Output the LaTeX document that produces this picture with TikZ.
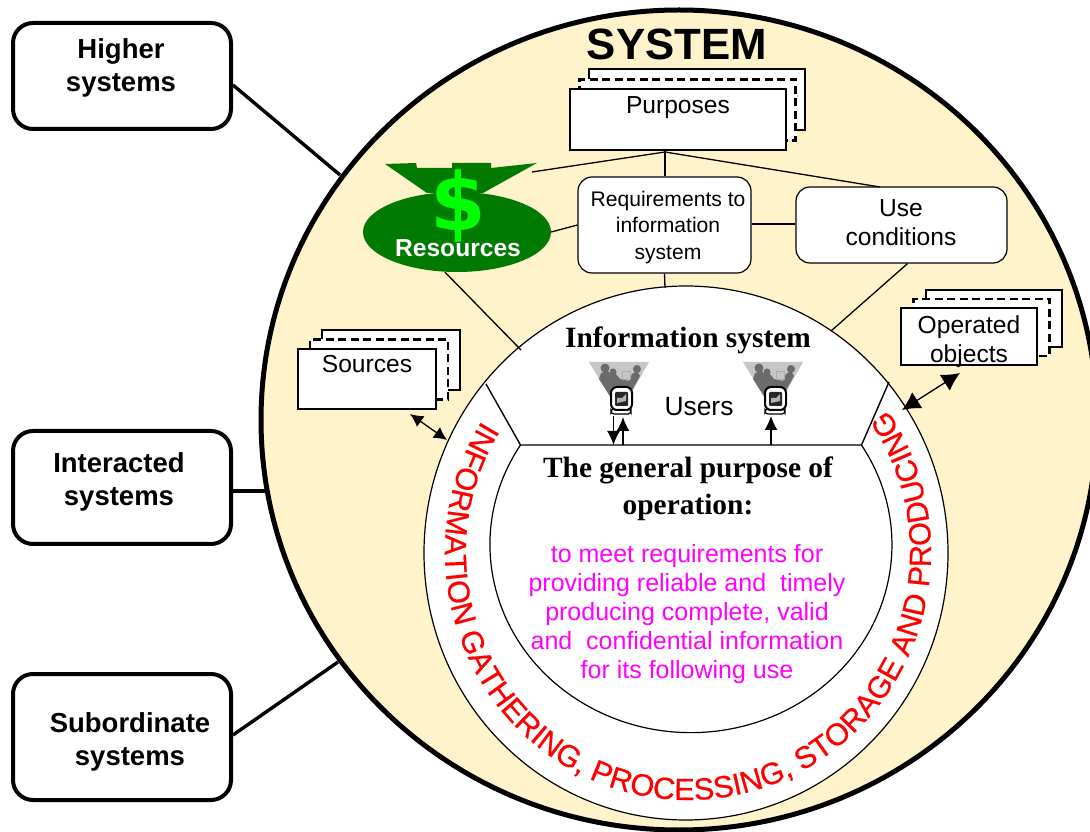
\documentclass[tikz,border=0pt]{standalone}
\usepackage{fontspec}
\setmainfont{Liberation Sans}
\newfontfamily\headfont{Liberation Serif}
\newfontfamily\arcfont[FakeBold=0.5]{Liberation Sans}
\newfontfamily\dollarfont{DejaVu Sans}
\usetikzlibrary{arrows.meta,decorations.text,shapes.geometric}
\definecolor{sysbg}{HTML}{FFF3CC}
\definecolor{bagdark}{HTML}{007A00}
\definecolor{baglight}{HTML}{00FF00}
\definecolor{goaltext}{HTML}{FF00FF}
\tikzset{
	sysbox/.style={draw,line width=4pt,rounded corners=20pt,fill=white,minimum width=218pt},
	systxt/.style={align=center,font=\fontsize{27.5}{33}\selectfont\bfseries},
	sheet/.style={draw,line width=2pt,fill=white,inner sep=0pt},
	sheetdash/.style={sheet,line width=2.4pt,dash pattern=on 8pt off 4.5pt},
	softbox/.style={draw,line width=1.2pt,rounded corners=14pt,fill=white,inner sep=0pt},
	plain/.style={align=center,font=\fontsize{24.6}{29}\selectfont},
	goalfont/.style={align=center,font=\fontsize{25}{29.2}\selectfont},
	headtxt/.style={align=center,font=\fontsize{29.4}{37}\selectfont\headfont\bfseries},
	thin line/.style={line width=1.3pt},
	both tips/.style={line width=1.3pt,{Latex[length=13pt,width=13pt]}-{Latex[length=13pt,width=13pt]}},
	usericon/.pic={
		\fill[gray!45](-30,0)--(30,0)--(1,-51)--cycle;
		\fill[black!58](-20,-17)--(-18,-11)--(-11,-9)--(-8,-13)--(-3,-12)--(1,-17)--(10,-19)--(13,-12)--(18,-9)--(21,-14)--(1,-50)--cycle;
		\fill[black!58](-14,-6)circle(4.5pt)(-6,-10)circle(3.5pt)(18,-7)circle(4pt);
		\draw[gray!65,line width=1pt](3,-10)rectangle(11,-18);
		\draw[line width=1.3pt,fill=white,rounded corners=3pt](-8,-47)rectangle(12,-52);
		\draw[line width=2pt,fill=white,rounded corners=6pt](-8,-25)rectangle(13,-48);
		\fill[black!85,rounded corners=1pt](-4,-30)rectangle(9,-44);
		\fill[gray!60](-2,-41)--(-2,-36)--(3,-36)--(7,-32)--(7,-39)--cycle;
		\coordinate(-foot)at(0,-54);
	}
}
\begin{document}
\begin{tikzpicture}[x=1pt,y=1pt]
	\useasboundingbox(0,0)rectangle(1090,831);
	\clip(0,0)rectangle(1090,831);
	\fill[sysbg](679,411)ellipse[x radius=418,y radius=410];
	\draw[line width=5pt](679,411)ellipse[x radius=418,y radius=410];
	\draw[line width=1.2pt,fill=white](686,278)ellipse[x radius=262,y radius=267];
	\draw[line width=1.2pt](520.5,386)arc[start angle=148,end angle=392,x radius=201,y radius=188];
	\draw[line width=1.4pt](486,447)--(520.5,386)--(861.5,386)--(889,449);
	\path[decorate,decoration={text along path,
		text={|\arcfont\fontsize{30.6}{31}\selectfont\color{red}|INFORMATION GATHERING, PROCESSING, STORAGE AND PRODUCING}}]
		(688,279)++(148:243 and 248)arc[start angle=148,end angle=405,x radius=243,y radius=248];

	\node[sysbox,minimum height=106pt](higher)at(122,755){};
	\node[sysbox,minimum height=113pt](interacted)at(122,343.5){};
	\node[sysbox,minimum height=126pt](subordinate)at(122,94){};
	\node[systxt](highertxt)at(121,763){Higher\\systems};
	\node[systxt](interactedtxt)at(119,349.5){Interacted\\systems};
	\node[systxt](subordinatetxt)at(130,89.5){Subordinate\\systems};
	\coordinate(highend)at(340,656);
	\coordinate(interend)at(266,340);
	\coordinate(subend)at(338,169);
	\draw[line width=3.4pt]([yshift=-9pt]higher.east)--(highend);
	\draw[line width=3.4pt]([yshift=-3.5pt]interacted.east)--(interend);
	\draw[line width=3.4pt]([yshift=2pt]subordinate.east)--(subend);

	\node[font=\fontsize{43.8}{44}\selectfont\bfseries](systemtxt)at(677,787){SYSTEM};

	\foreach \nm/\x/\y/\w/\h/\dx/\dy in {purposes/678/711/216/61/19/20,sources/367/452/138/60/24/19,operated/969/494.5/136/57/25/18}{
		\node[sheet,minimum width=\w pt,minimum height=\h pt](\nm back)at(\x+\dx,\y+\dy){};
		\node[sheetdash,minimum width=\w pt,minimum height=\h pt](\nm mid)at(\x+\dx/2,\y+\dy/2){};
		\node[sheet,minimum width=\w pt,minimum height=\h pt](\nm)at(\x,\y){};
	}
	\node[plain](purposestxt)at(678,723.5){Purposes};
	\node[plain](sourcestxt)at(367,467){Sources};
	\node[plain](operatedtxt)at(969,489.5){Operated\\objects};

	\coordinate(hub)at(665,679);
	\coordinate(bagend)at(532,659);
	\coordinate(useend)at(880,644);
	\coordinate(bagring)at(521,481);
	\coordinate(reqring)at(665,543);
	\coordinate(usering)at(831,500);
	\node[softbox,minimum width=173pt,minimum height=96pt](req)at(664.5,606){};
	\node[softbox,minimum width=211pt,minimum height=76pt](use)at(901.5,606){};
	\node[ellipse,fill=bagdark,minimum width=188pt,minimum height=80pt,inner sep=0pt](resources)at(457,599){};
	\draw[thin line](purposes.south-|hub)--(hub);
	\draw[thin line](hub)--(bagend);
	\draw[thin line](hub)--(useend);
	\draw[thin line](hub)--(req.north-|hub);
	\draw[thin line](resources.east)--(req.west);
	\draw[thin line]([yshift=1pt]req.east)--([yshift=1pt]use.west);
	\draw[thin line](req.south)--(reqring);
	\draw[thin line](use.south)++(6,0)--(usering);
	\draw[thin line](resources.south)++(-12,0)--(bagring);
	\fill[bagdark](385,667)--(416,668)--(417,663)--(452,663)--(452,668)--(491,668)--(491,663)--(537,668)--(483,638)--(427,638)--cycle;
	\node[font=\fontsize{80}{80}\selectfont\dollarfont\bfseries,text=baglight,inner sep=0pt](dollar)at(458.5,625){\$};
	\node[font=\fontsize{24.6}{29}\selectfont\bfseries,text=white](resourcestxt)at(458,583){Resources};
	\node[align=center,font=\fontsize{21.1}{26.5}\selectfont](reqtxt)at(668,603.5){Requirements to\\information\\system};
	\node[plain](usetxt)at(901,608){Use\\conditions};

	\node[headtxt](infotxt)at(688,490.5){Information system};
	\node[headtxt](goaltxt)at(688,342){The general purpose of\\operation:};
	\node[goalfont,text=goaltext](goalbody)at(687,217){to meet requirements for\\providing reliable and\ \ timely\\producing complete, valid\\and\ \ confidential information\\for its following use};
	\node[font=\fontsize{26.4}{29}\selectfont](userstxt)at(699,424){Users};

	\pic(icona)at(619,469){usericon};
	\pic(iconb)at(773,469){usericon};
	\coordinate(downend)at(613.5,386);
	\coordinate(upstart)at(623,386);
	\coordinate(rightstart)at(771,386);
	\coordinate(sourcesring)at(447,391);
	\coordinate(operatedring)at(902,421);
	\draw[line width=1.4pt,-{Latex[length=14pt,width=13pt]}]([xshift=-5.5pt]icona-foot)--(downend);
	\draw[line width=1.4pt,-{Latex[length=14pt,width=13pt]}](upstart)--([xshift=4pt,yshift=-1pt]icona-foot);
	\draw[line width=1.4pt,-{Latex[length=14pt,width=13pt]}](rightstart)--([xshift=-2pt]iconb-foot);
	\draw[both tips]([xshift=43pt,yshift=-4pt]sources.south)--(sourcesring);
	\draw[line width=1.3pt,{Latex[length=18pt,width=19pt]}-{Latex[length=18pt,width=19pt]}]([xshift=-9pt,yshift=-7pt]operated.south)--(operatedring);
\end{tikzpicture}
\end{document}
